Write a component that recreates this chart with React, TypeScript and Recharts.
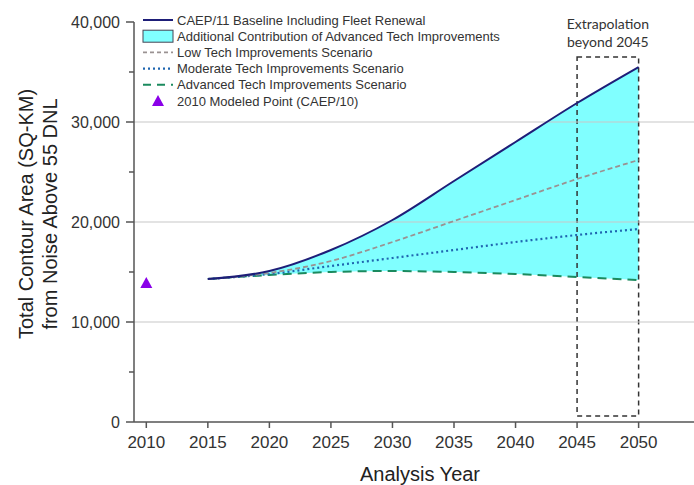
import {
  ComposedChart,
  Line,
  Area,
  Scatter,
  XAxis,
  YAxis,
  ReferenceLine,
  ReferenceArea,
} from "recharts";

const years = [2015, 2020, 2025, 2030, 2035, 2040, 2045, 2050];
const baseline = [14300, 15100, 17200, 20200, 24100, 28000, 31900, 35500];
const lowTech = [14300, 14900, 16100, 18000, 20100, 22200, 24300, 26200];
const moderateTech = [14300, 14800, 15600, 16400, 17200, 18000, 18700, 19300];
const advancedTech = [14300, 14700, 15000, 15100, 15000, 14800, 14500, 14200];

const modeledYears = [2010];
const modeledValues = [13900];

const xTicks = [2010, 2015, 2020, 2025, 2030, 2035, 2040, 2045, 2050];
const yTicks = [0, 5000, 10000, 15000, 20000, 25000, 30000, 35000, 40000];
const gridValues = [10000, 20000, 30000];

const legendItems = [
  "CAEP/11 Baseline Including Fleet Renewal",
  "Additional Contribution of Advanced Tech Improvements",
  "Low Tech Improvements Scenario",
  "Moderate Tech Improvements Scenario",
  "Advanced Tech Improvements Scenario",
  "2010 Modeled Point (CAEP/10)",
];

const data = years.map((year, i) => ({
  year,
  baseline: baseline[i],
  low: lowTech[i],
  moderate: moderateTech[i],
  advanced: advancedTech[i],
  range: [advancedTech[i], baseline[i]],
}));

const modeled = modeledYears.map((year, i) => ({ year, value: modeledValues[i] }));

const FONT = "'Liberation Sans', Arial, sans-serif";
const NAVY = "#1e1e78";
const CYAN = "#80ffff";
const GRAY = "#9a9292";
const BLUE = "#1f66b0";
const GREEN = "#1b8a5e";
const PURPLE = "#8a00e8";

function YTick({ x, y, payload }: any) {
  const major = payload.value % 10000 === 0;
  return (
    <g>
      <line x1={x - (major ? 8 : 5)} x2={x} y1={y} y2={y} stroke="#555" strokeWidth={1.5} />
      {major && (
        <text x={x - 14} y={y} dy={6} textAnchor="end" fontSize={16} fill="#333" fontFamily={FONT}>
          {payload.value.toLocaleString("en-US")}
        </text>
      )}
    </g>
  );
}

function Triangle({ cx, cy }: any) {
  return <polygon points={`${cx},${cy - 6} ${cx - 6},${cy + 5} ${cx + 6},${cy + 5}`} fill={PURPLE} />;
}

function LegendSymbol({ index, y }: { index: number; y: number }) {
  const x1 = 143;
  const x2 = 173;
  if (index === 0) return <line x1={x1} x2={x2} y1={y} y2={y} stroke={NAVY} strokeWidth={2} />;
  if (index === 1)
    return <rect x={x1} y={y - 6} width={x2 - x1} height={12} fill={CYAN} stroke="#445" strokeWidth={1} />;
  if (index === 2)
    return <line x1={x1} x2={x2} y1={y} y2={y} stroke={GRAY} strokeWidth={1.8} strokeDasharray="4 3" />;
  if (index === 3)
    return <line x1={x1} x2={x2} y1={y} y2={y} stroke={BLUE} strokeWidth={2.2} strokeDasharray="2 3" />;
  if (index === 4)
    return <line x1={x1} x2={x2} y1={y} y2={y} stroke={GREEN} strokeWidth={2} strokeDasharray="8 6" />;
  return <Triangle cx={158} cy={y} />;
}

export default function App() {
  return (
    <div style={{ position: "absolute", left: 0, top: 0, width: 694, height: 485, background: "#fff" }}>
      <ComposedChart
        width={694}
        height={485}
        data={data}
        margin={{ top: 22, right: 0, bottom: 23, left: 74 }}
      >
        {gridValues.map((v) => (
          <ReferenceLine key={v} y={v} stroke="#c8c8c8" strokeWidth={1.2} />
        ))}
        <XAxis
          dataKey="year"
          type="number"
          domain={[2009, 2054.5]}
          ticks={xTicks}
          allowDataOverflow
          height={40}
          tickSize={6}
          tickMargin={8}
          stroke="#555"
          strokeWidth={1.5}
          tick={{ fontSize: 17, fill: "#333", fontFamily: FONT }}
          label={{
            content: () => (
              <text x={420} y={481} textAnchor="middle" fontSize={20} fill="#222" fontFamily={FONT}>
                Analysis Year
              </text>
            ),
          }}
        />
        <YAxis
          type="number"
          domain={[0, 40000]}
          ticks={yTicks}
          width={60}
          tickSize={0}
          tickMargin={0}
          tickLine={false}
          stroke="#555"
          strokeWidth={1.5}
          tick={<YTick />}
          interval={0}
        />
        <Area
          dataKey="range"
          type="monotone"
          fill={CYAN}
          fillOpacity={1}
          stroke="none"
          isAnimationActive={false}
        />
        <Line dataKey="advanced" type="monotone" stroke={GREEN} strokeWidth={2} strokeDasharray="9 6" dot={false} isAnimationActive={false} />
        <Line dataKey="moderate" type="monotone" stroke={BLUE} strokeWidth={2.2} strokeDasharray="2 3" dot={false} isAnimationActive={false} />
        <Line dataKey="low" type="monotone" stroke={GRAY} strokeWidth={1.8} strokeDasharray="5 3" dot={false} isAnimationActive={false} />
        <Line dataKey="baseline" type="monotone" stroke={NAVY} strokeWidth={2} dot={false} isAnimationActive={false} />
        <Scatter data={modeled} dataKey="value" shape={<Triangle />} isAnimationActive={false} />
        <ReferenceArea
          x1={2045}
          x2={2050}
          y1={600}
          y2={36500}
          fill="none"
          stroke="#333"
          strokeWidth={1.5}
          strokeDasharray="5 4"
          ifOverflow="visible"
          label={{
            content: ({ viewBox }: any) => {
              const cx = viewBox.x + viewBox.width / 2;
              return (
                <g fontFamily="Lato, 'Open Sans', sans-serif" fontSize={14} fill="#333" textAnchor="middle">
                  <text x={cx} y={viewBox.y - 28}>Extrapolation</text>
                  <text x={cx} y={viewBox.y - 10}>beyond 2045</text>
                </g>
              );
            },
          }}
        />
      </ComposedChart>
      <svg
        width={694}
        height={485}
        style={{ position: "absolute", left: 0, top: 0, pointerEvents: "none" }}
      >
        <g fontFamily={FONT} fontSize={20} fill="#222" textAnchor="middle">
          <text transform="translate(33,214) rotate(-90)">Total Contour Area (SQ-KM)</text>
          <text transform="translate(57,214) rotate(-90)">from Noise Above 55 DNL</text>
        </g>
        {legendItems.map((label, i) => {
          const y = 20 + i * 16.2;
          return (
            <g key={label}>
              <LegendSymbol index={i} y={y} />
              <text x={177} y={y + 4.5} fontSize={13} fill="#333" fontFamily={FONT}>
                {label}
              </text>
            </g>
          );
        })}
      </svg>
    </div>
  );
}
